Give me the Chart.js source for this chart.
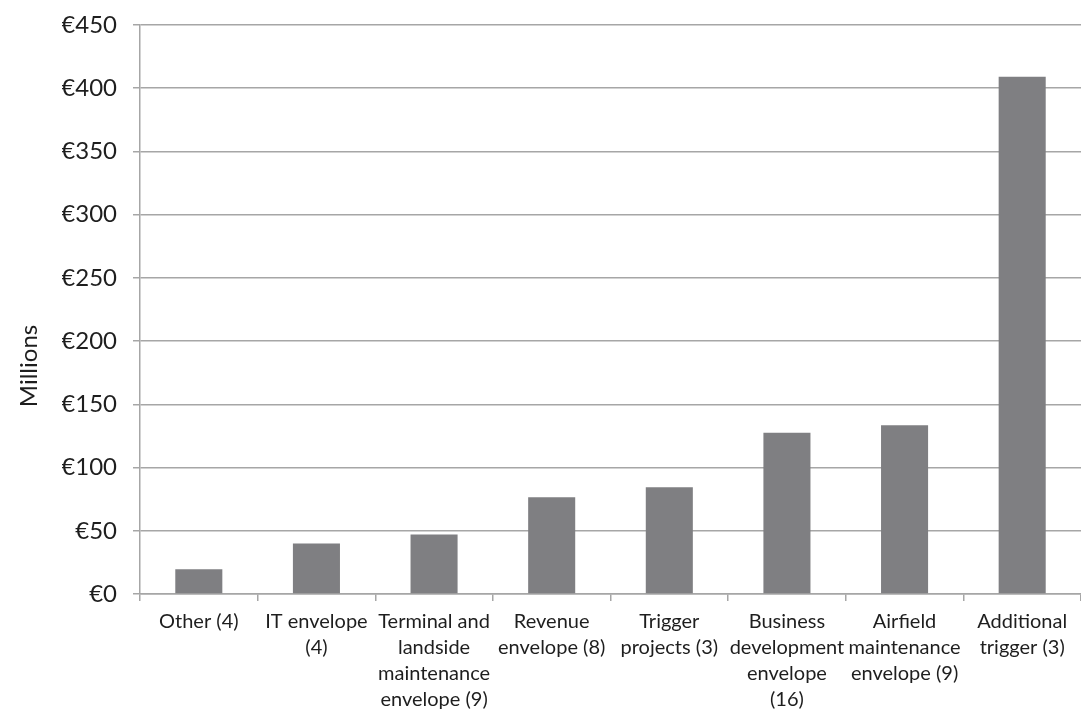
<!DOCTYPE html>
<html>
<head>
<meta charset="utf-8">
<script src="https://cdn.jsdelivr.net/npm/chart.js@4/dist/chart.umd.min.js"></script>
<style>
  html, body { margin: 0; padding: 0; background: #ffffff; overflow: hidden; }
  #wrap { position: relative; width: 1081px; height: 710px; }
</style>
</head>
<body>
<div id="wrap"><canvas id="c"></canvas></div>
<script>
const categories = [
  ['Other (4)'],
  ['IT envelope', '(4)'],
  ['Terminal and', 'landside', 'maintenance', 'envelope (9)'],
  ['Revenue', 'envelope (8)'],
  ['Trigger', 'projects (3)'],
  ['Business', 'development', 'envelope', '(16)'],
  ['Airfield', 'maintenance', 'envelope (9)'],
  ['Additional', 'trigger (3)']
];
const valuesMillions = [19.5, 40, 47, 76.5, 84.5, 127.5, 133.5, 409];
const yTicks = [0, 50, 100, 150, 200, 250, 300, 350, 400, 450];
const yAxisTitle = 'Millions';

const FONT = 'Lato, "Open Sans", sans-serif';
const TEXT = '#1e1e1e';
const GRID = '#a6a6a6';

// Draws the y-axis title where the reference places it (left of the tick labels, below centre)
const yTitlePlugin = {
  id: 'yTitle',
  afterDraw(chart) {
    const ctx = chart.ctx;
    ctx.save();
    ctx.translate(29, 366);
    ctx.rotate(-Math.PI / 2);
    ctx.font = '24px ' + FONT;
    ctx.fillStyle = TEXT;
    ctx.textAlign = 'center';
    ctx.textBaseline = 'middle';
    ctx.fillText(yAxisTitle, 0, 0);
    ctx.restore();
  }
};

new Chart(document.getElementById('c'), {
  type: 'bar',
  data: {
    labels: categories,
    datasets: [{
      data: valuesMillions,
      backgroundColor: '#7f7f82',
      borderWidth: 0,
      barPercentage: 0.4,
      categoryPercentage: 1.0
    }]
  },
  plugins: [yTitlePlugin],
  options: {
    responsive: true,
    maintainAspectRatio: false,
    animation: false,
    layout: { padding: { top: 25, right: 0, bottom: 0, left: 62 } },
    plugins: { legend: { display: false }, tooltip: { enabled: false } },
    scales: {
      x: {
        offset: true,
        afterFit: (axis) => { axis.height = 116; axis.paddingBottom = 0; },
        grid: {
          offset: true,
          drawOnChartArea: false,
          drawTicks: true,
          tickLength: 7,
          color: GRID,
          lineWidth: 1.5
        },
        border: { display: true, color: GRID, width: 1.5 },
        ticks: {
          autoSkip: false,
          maxRotation: 0,
          minRotation: 0,
          padding: 8,
          color: TEXT,
          font: { family: FONT, size: 20, lineHeight: 1.3 }
        }
      },
      y: {
        min: 0,
        max: 450,
        afterBuildTicks: (axis) => { axis.ticks = yTicks.map(v => ({ value: v })); },
        afterFit: (axis) => { axis.width = 78; axis.paddingTop = 0; axis.paddingBottom = 0; },
        grid: {
          color: GRID,
          lineWidth: 1.5,
          drawTicks: true,
          tickLength: 7
        },
        border: { display: true, color: GRID, width: 1.5 },
        ticks: {
          padding: 16,
          color: TEXT,
          font: { family: FONT, size: 24 },
          callback: (v) => '€' + v
        },
        title: { display: false }
      }
    }
  }
});
</script>
</body>
</html>
